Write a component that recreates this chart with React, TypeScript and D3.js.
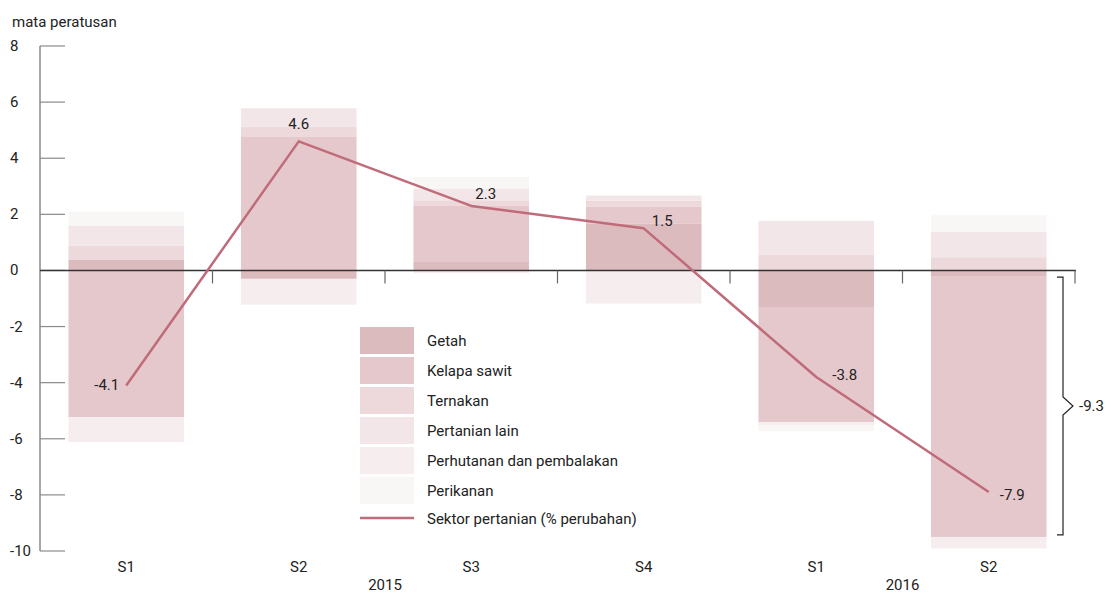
import React from 'react';
import * as d3 from 'd3';

const periods = ['S1', 'S2', 'S3', 'S4', 'S1', 'S2'];
const yearLabels = ['2015', '2016'];
const yearSpans = [[0, 3], [4, 5]];
const seriesNames = ['Getah', 'Kelapa sawit', 'Ternakan', 'Pertanian lain', 'Perhutanan dan pembalakan', 'Perikanan'];
const getah = [0.39, -0.3, 0.3, 1.66, -1.33, -0.2];
const kelapaSawit = [-5.23, 4.78, 2.02, 0.62, -4.08, -9.3];
const ternakan = [0.5, 0.33, 0.18, 0.21, 0.57, 0.47];
const pertanianLain = [0.71, 0.67, 0.42, 0.18, 1.2, 0.9];
const perhutanan = [-0.89, -0.92, -0.1, -1.18, -0.12, -0.41];
const perikanan = [0.5, 0, 0.41, 0, -0.2, 0.6];
const sektorPertanian = [-4.1, 4.6, 2.3, 1.5, -3.8, -7.9];
const lineLabel = 'Sektor pertanian (% perubahan)';
const yTicks = [8, 6, 4, 2, 0, -2, -4, -6, -8, -10];
const unitLabel = 'mata peratusan';
const annotationLabel = '-9.3';

const colors = ['#dcbbbe', '#e5c8cc', '#edd9db', '#f3e6e8', '#f6eeee', '#f9f7f6'];
const lineColor = '#c06b79';
const FONT = '"Liberation Sans Narrow", "Arial Narrow", "Roboto", sans-serif';
// label offsets (dx, dy, anchor) per point
const labelPlacement: [number, number, string][] = [
  [-7, 5, 'end'],
  [0, -12, 'middle'],
  [4, -7, 'start'],
  [8, -2, 'start'],
  [16, 3, 'start'],
  [11, 8, 'start'],
];

export default function App() {
  const W = 1111, H = 594;
  const left = 40, right = 1075;
  const x = d3.scaleBand<number>().domain(d3.range(periods.length)).range([left, right]).paddingInner(0.33).paddingOuter(0.165);
  const y = d3.scaleLinear().domain([-10, 8]).range([551, 46]);
  const step = (right - left) / periods.length;
  const seriesArrays = [getah, kelapaSawit, ternakan, pertanianLain, perhutanan, perikanan];
  const rows = periods.map((_, i) => {
    const r: Record<string, number> = {};
    seriesNames.forEach((n, k) => (r[n] = seriesArrays[k][i]));
    return r;
  });
  const stack = d3.stack<Record<string, number>>().keys(seriesNames).offset(d3.stackOffsetDiverging);
  const stacked = stack(rows);
  const cx = (i: number) => (x(i) as number) + x.bandwidth() / 2;
  const line = d3.line<number>().x((_, i) => cx(i)).y((d) => y(d));

  // bracket around Kelapa sawit segment of last bar
  const last = periods.length - 1;
  const ksSeg = stacked[1][last];
  const bTop = y(ksSeg[1]) + 1;
  const bBot = y(ksSeg[0]) - 2;
  const bMid = (bTop + bBot) / 2;
  const bx0 = right - 18, bx1 = right - 12, bTip = right - 2;
  const bracket = `M${bx0},${bTop}H${bx1}V${bMid - 9}L${bTip},${bMid}L${bx1},${bMid + 9}V${bBot}H${bx0}`;

  return (
    <svg width={W} height={H} style={{ position: 'absolute', left: 0, top: 0, background: '#fff' }} fontFamily={FONT}>
      <text x={12} y={27} fontSize={15} fill="#222">{unitLabel}</text>
      {/* y axis */}
      <line x1={left} x2={left} y1={y(8)} y2={y(-10)} stroke="#8a8a8a" strokeWidth={1.5} />
      {yTicks.map((t) => (
        <g key={t}>
          <line x1={left} x2={left + 25} y1={y(t)} y2={y(t)} stroke="#8a8a8a" strokeWidth={1.2} />
          <text x={10} y={y(t) + 5} fontSize={15} fill="#222">{t}</text>
        </g>
      ))}
      {/* bars */}
      {stacked.map((s, k) => (
        <g key={s.key} fill={colors[k]}>
          {s.map((d, i) => (
            d[1] - d[0] === 0 ? null :
            <rect key={i} x={x(i)} width={x.bandwidth()} y={y(d[1])} height={y(d[0]) - y(d[1])} />
          ))}
        </g>
      ))}
      {/* x axis */}
      <line x1={left} x2={right + 1} y1={y(0)} y2={y(0)} stroke="#333" strokeWidth={1.5} />
      {periods.map((_, i) => (
        <line key={i} x1={left + step * (i + 1)} x2={left + step * (i + 1)} y1={y(0)} y2={y(0) + 13} stroke="#666" strokeWidth={1.2} />
      ))}
      {periods.map((p, i) => (
        <text key={i} x={cx(i)} y={572} fontSize={15} textAnchor="middle" fill="#222">{p}</text>
      ))}
      {yearLabels.map((yl, j) => (
        <text key={yl} x={(left + step * yearSpans[j][0] + left + step * (yearSpans[j][1] + 1)) / 2} y={590} fontSize={15} textAnchor="middle" fill="#222">{yl}</text>
      ))}
      {/* line */}
      <path d={line(sektorPertanian) || ''} fill="none" stroke={lineColor} strokeWidth={2.5} strokeLinejoin="round" />
      {sektorPertanian.map((v, i) => (
        <text key={i} x={cx(i) + labelPlacement[i][0]} y={y(v) + labelPlacement[i][1]} fontSize={15} textAnchor={labelPlacement[i][2] as any} fill="#222">{v.toFixed(1)}</text>
      ))}
      {/* bracket */}
      <path d={bracket} fill="none" stroke="#222" strokeWidth={1.2} />
      <text x={right + 4} y={bMid + 5} fontSize={15} fill="#222">{annotationLabel}</text>
      {/* legend */}
      {seriesNames.map((n, k) => (
        <g key={n} transform={`translate(360, ${327 + k * 30})`}>
          <rect width={54} height={27} fill={colors[k]} />
          <text x={67} y={19} fontSize={15} fill="#222">{n}</text>
        </g>
      ))}
      <g transform={`translate(360, ${327 + 6 * 30})`}>
        <line x1={0} x2={54} y1={11} y2={11} stroke={lineColor} strokeWidth={2.5} />
        <text x={67} y={17} fontSize={15} fill="#222">{lineLabel}</text>
      </g>
    </svg>
  );
}
